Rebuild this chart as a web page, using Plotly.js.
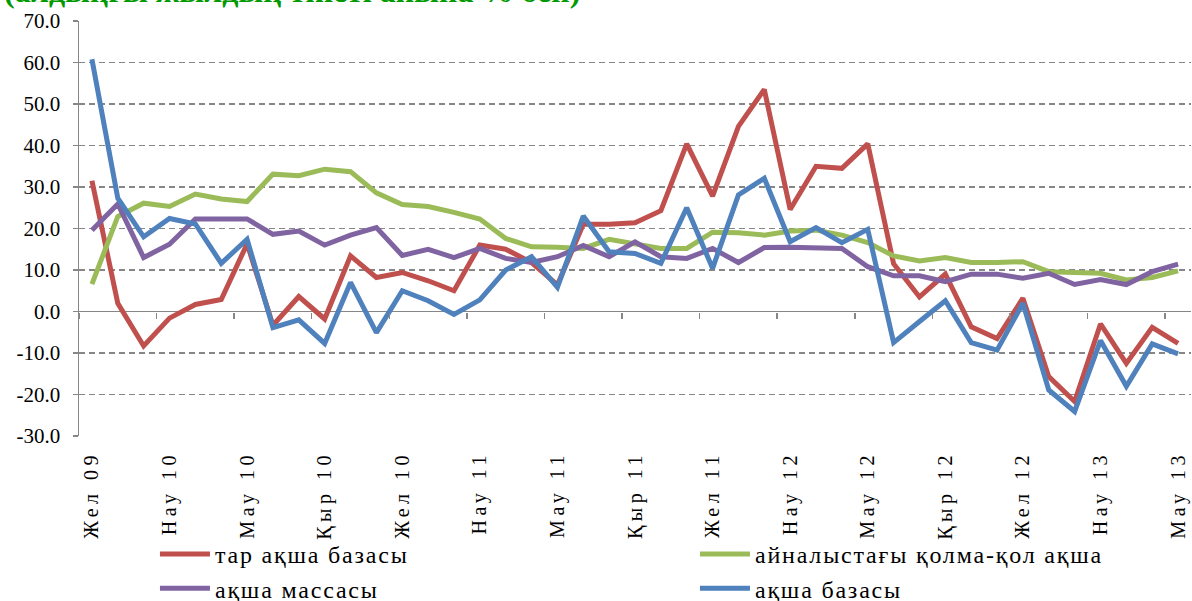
<!DOCTYPE html>
<html><head><meta charset="utf-8">
<script src="https://cdn.plot.ly/plotly-3.0.1.min.js"></script>
<style>
html,body{margin:0;padding:0;background:#fff;}
#chart{width:1192px;height:601px;}
.xtick text{letter-spacing:4.5px;}
.legendtext{letter-spacing:1.8px;}
</style></head><body><div id="chart"></div>
<script>
const months = ["Жел 09","Қаң 10","Ақп 10","Нау 10","Сәу 10","Мам 10","Мау 10","Шіл 10","Там 10","Қыр 10","Қаз 10","Қар 10",
"Жел 10","Қаң 11","Ақп 11","Нау 11","Сәу 11","Мам 11","Мау 11","Шіл 11","Там 11","Қыр 11","Қаз 11","Қар 11",
"Жел 11","Қаң 12","Ақп 12","Нау 12","Сәу 12","Мам 12","Мау 12","Шіл 12","Там 12","Қыр 12","Қаз 12","Қар 12",
"Жел 12","Қаң 13","Ақп 13","Нау 13","Сәу 13","Мам 13","Мау 13"];
const narrowBase = [31.5,2.0,-8.3,-1.6,1.7,2.9,16.3,-3.3,3.6,-1.8,13.4,8.2,9.4,7.4,5.0,16.0,15.0,11.8,6.4,21.0,21.0,21.4,24.3,40.4,27.8,44.6,53.5,24.6,35.0,34.5,40.4,11.5,3.5,9.0,-3.7,-6.5,3.2,-15.7,-21.7,-3.0,-12.5,-3.8,-7.7];
const cashInCirc = [6.6,22.9,26.1,25.3,28.3,27.1,26.5,33.1,32.7,34.3,33.7,28.6,25.8,25.3,23.9,22.3,17.6,15.6,15.5,15.2,17.4,16.4,15.2,15.2,19.1,19.0,18.4,19.4,19.6,18.4,16.6,13.4,12.2,13.0,11.8,11.8,12.0,9.6,9.4,9.2,7.6,8.2,9.8];
const moneySupply = [19.6,25.9,13.0,16.2,22.3,22.4,22.3,18.6,19.4,16.0,18.4,20.2,13.5,15.0,13.0,15.2,12.8,11.8,13.2,15.9,13.2,16.8,13.2,12.8,15.2,11.8,15.4,15.5,15.4,15.2,10.8,8.6,8.6,7.2,9.0,9.0,8.0,9.2,6.5,7.7,6.5,9.6,11.4];
const monetaryBase = [60.8,27.3,18.0,22.4,21.1,11.6,17.4,-3.9,-2.0,-7.7,7.0,-5.1,5.0,2.6,-0.7,2.8,10.0,13.2,5.8,23.0,14.4,14.0,11.6,25.0,10.4,28.1,32.1,16.8,20.2,16.6,19.8,-7.5,-2.4,2.6,-7.5,-9.3,2.0,-18.9,-24.1,-7.0,-18.0,-7.8,-10.2];
const seriesNames = ["тар ақша базасы","айналыстағы қолма-қол ақша","ақша массасы","ақша базасы"];
const yTickVals = [70,60,50,40,30,20,10,0,-10,-20,-30];
const yTickText = yTickVals.map(v => v.toFixed(1));
const titleText = "(алдыңғы жылдың тиісті айына % бен)";

const colors = ["#C0504D","#9BBB59","#8064A2","#4F81BD"];
const serif = "Liberation Serif, Times New Roman, serif";
const W = 5;
const traces = [
  {x: months, y: narrowBase, name: seriesNames[0], type:'scatter', mode:'lines', line:{color:colors[0], width:W}, xaxis:'x', yaxis:'y'},
  {x: months, y: cashInCirc, name: seriesNames[1], type:'scatter', mode:'lines', line:{color:colors[1], width:W}, xaxis:'x', yaxis:'y'},
  {x: months, y: moneySupply, name: seriesNames[2], type:'scatter', mode:'lines', line:{color:colors[2], width:W}, xaxis:'x', yaxis:'y'},
  {x: months, y: monetaryBase, name: seriesNames[3], type:'scatter', mode:'lines', line:{color:colors[3], width:W}, xaxis:'x2', yaxis:'y'}
];
const gray = "#868686";
const layout = {
  width:1192, height:601,
  margin:{l:79, r:1, t:21, b:165},
  paper_bgcolor:'#fff', plot_bgcolor:'#fff',
  font:{family:serif, color:'#000'},
  showlegend:true,
  xaxis:{
    type:'category', range:[-0.5,42.5], tickmode:'linear', tick0:0, dtick:3,
    tickangle:-90, ticks:'', showgrid:false, showline:false, zeroline:false,
    tickfont:{family:serif, size:20, color:'#000'}, ticklabelstandoff:10, fixedrange:true
  },
  xaxis2:{
    type:'category', overlaying:'x', matches:'x', anchor:'free', position:0.3,
    tickmode:'linear', tick0:0, dtick:3, tickson:'boundaries',
    ticks:'outside', ticklen:6, tickwidth:1.5, tickcolor:gray,
    showticklabels:false, showgrid:false, showline:false, zeroline:false
  },
  yaxis:{
    range:[-30,70], tickmode:'array', tickvals:yTickVals, ticktext:yTickText,
    showline:true, linecolor:gray, linewidth:1.5,
    ticks:'outside', ticklen:5, tickwidth:1.5, tickcolor:gray,
    showgrid:true, gridcolor:gray, gridwidth:1.4, griddash:'6px,4px',
    zeroline:true, zerolinecolor:gray, zerolinewidth:1.6,
    tickfont:{family:serif, size:21, color:'#000'}, ticklabelstandoff:8
  },
  legend:{
    orientation:'h', xref:'container', yref:'container', x:0.13, xanchor:'left',
    y:0.115, yanchor:'top', entrywidth:475, entrywidthmode:'pixels', itemwidth:50,
    font:{family:serif, size:24, color:'#000'}, bgcolor:'rgba(0,0,0,0)', traceorder:'normal'
  },
  annotations:[{
    text:'<b>'+titleText+'</b>', showarrow:false, xref:'paper', yref:'paper',
    x:-0.069, xanchor:'left', y:1.025, yanchor:'bottom',
    font:{family:serif, size:32, color:'#009A00'}
  }]
};
Plotly.newPlot('chart', traces, layout, {displayModeBar:false, staticPlot:true});
</script></body></html>
